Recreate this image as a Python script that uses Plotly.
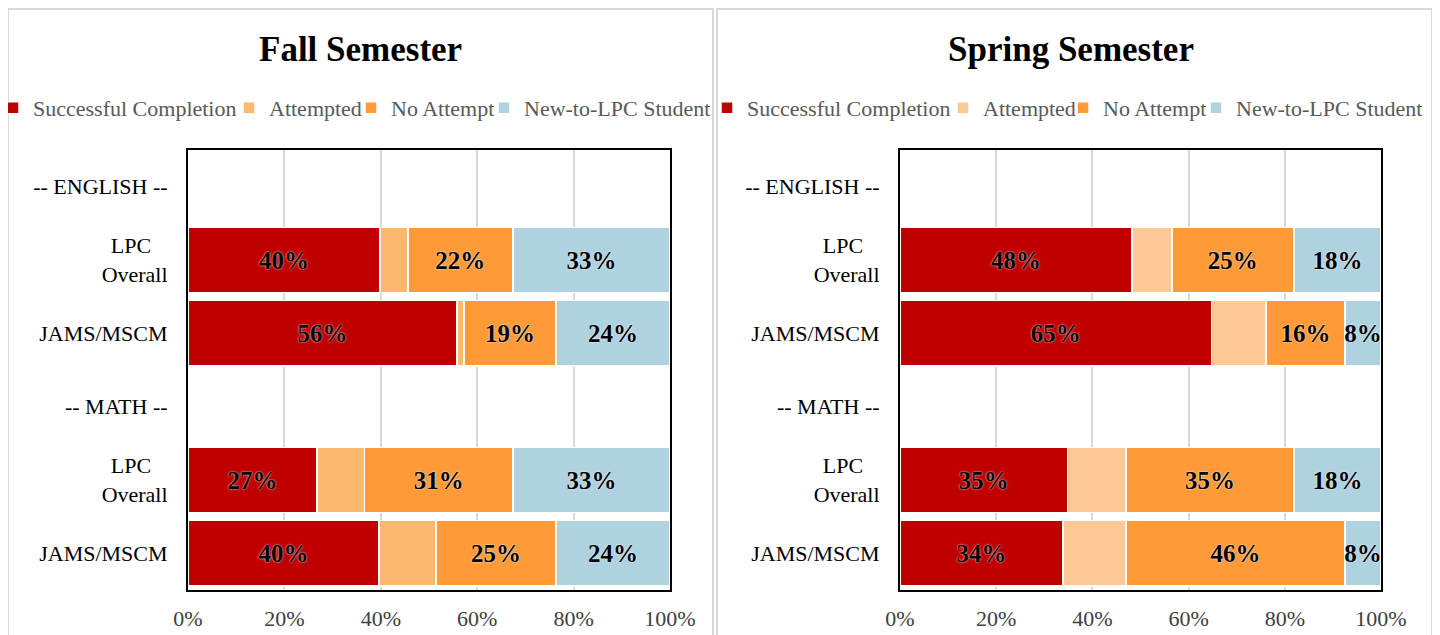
import plotly.graph_objects as go

rows = ["-- ENGLISH --", "LPC\u00a0\u00a0\u00a0<br>Overall", "JAMS/MSCM",
        "-- MATH --", "LPC\u00a0\u00a0\u00a0<br>Overall", "JAMS/MSCM"]
series = ["Successful Completion", "Attempted", "No Attempt", "New-to-LPC Student"]

fall_success = [None, 0.398, 0.558, None, 0.268, 0.396]
fall_attempted = [None, 0.058, 0.015, None, 0.098, 0.119]
fall_noattempt = [None, 0.218, 0.190, None, 0.308, 0.248]
fall_new = [None, 0.326, 0.237, None, 0.326, 0.237]

spring_success = [None, 0.482, 0.648, None, 0.348, 0.339]
spring_attempted = [None, 0.083, 0.113, None, 0.122, 0.131]
spring_noattempt = [None, 0.254, 0.164, None, 0.349, 0.455]
spring_new = [None, 0.181, 0.075, None, 0.181, 0.075]

fall_colors = ["#C00000", "#FDB870", "#FF9A38", "#AED2E0"]
spring_colors = ["#C00000", "#FFC996", "#FF9A38", "#AED2E0"]
show_text = [True, False, True, True]

FONT = "Liberation Serif, Times New Roman, serif"
W, H = 1440, 635
OFF = 8  # page body margin offset


def px(x):
    return (x - OFF) / W


def py(y):
    return 1 - (y - OFF) / H


# screen x where each legend entry's text starts (fall, spring)
fall_legend_text_x = [34, 270, 392, 525]
spring_legend_text_x = [748, 984, 1104, 1237]

fig = go.Figure()
ypos = list(range(len(rows)))
legend_layouts = {}
legend_counter = [0]


def add_panel(vals_list, colors, xaxis, yaxis, text_xs):
    for name, vals, col, st, tx in zip(series, vals_list, colors, show_text, text_xs):
        legend_counter[0] += 1
        lid = "legend" if legend_counter[0] == 1 else f"legend{legend_counter[0]}"
        legend_layouts[lid] = dict(
            orientation="h", xref="paper", yref="paper",
            x=px(tx - 41), xanchor="left", y=py(108), yanchor="middle",
            font=dict(family=FONT, size=22, color="#595959"), itemwidth=30,
            bgcolor="rgba(0,0,0,0)", borderwidth=0, itemclick=False, itemdoubleclick=False)
        fig.add_trace(go.Bar(
            y=ypos, x=vals, orientation="h", name=name,
            marker=dict(color=col, line=dict(color="white", width=1.5)),
            text=[f"{v*100:.0f}%" if (v is not None and st) else "" for v in vals],
            textposition="inside", insidetextanchor="middle", textangle=0,
            textfont=dict(family=FONT, size=25, color="black", weight="bold",
                          shadow="0px 0px 2px white"),
            xaxis=xaxis, yaxis=yaxis, legend=lid, hoverinfo="skip",
            cliponaxis=False,
        ))


add_panel([fall_success, fall_attempted, fall_noattempt, fall_new], fall_colors, "x", "y", fall_legend_text_x)
add_panel([spring_success, spring_attempted, spring_noattempt, spring_new], spring_colors, "x2", "y2", spring_legend_text_x)

ydom = [py(590), py(150)]
xax = dict(range=[0, 1], tickformat=".0%", tickvals=[0, 0.2, 0.4, 0.6, 0.8, 1.0],
           showgrid=True, gridcolor="#D9D9D9", gridwidth=2, zeroline=False,
           showline=True, linecolor="black", linewidth=2, mirror=True,
           tickfont=dict(family=FONT, size=22, color="#404040"), ticks="", ticklabelstandoff=8,
           fixedrange=True, automargin=False)
yax = dict(tickvals=ypos, ticktext=rows, range=[5.5, -0.5],
           showline=True, linecolor="black", linewidth=2, mirror=True, showgrid=False,
           tickfont=dict(family=FONT, size=22, color="#000000"), ticks="", ticklabelstandoff=14,
           domain=ydom, fixedrange=True, automargin=False)

fig.update_layout(
    width=W, height=H,
    margin=dict(l=0, r=0, t=0, b=0, autoexpand=False),
    paper_bgcolor="white", plot_bgcolor="white",
    barmode="stack", bargap=0.11,
    showlegend=True,
    uniformtext=dict(minsize=25, mode="show"),
    xaxis=dict(xax, domain=[px(188), px(670)], anchor="y"),
    yaxis=dict(yax, anchor="x"),
    xaxis2=dict(xax, domain=[px(900), px(1381)], anchor="y2"),
    yaxis2=dict(yax, anchor="x2"),
    annotations=[
        dict(text="<b>Fall Semester</b>", x=px(360), y=py(50), xref="paper", yref="paper",
             showarrow=False, font=dict(family=FONT, size=35, color="black"), xanchor="center", yanchor="middle"),
        dict(text="<b>Spring Semester</b>", x=px(1071), y=py(50), xref="paper", yref="paper",
             showarrow=False, font=dict(family=FONT, size=35, color="black"), xanchor="center", yanchor="middle"),
    ],
    shapes=[
        dict(type="rect", xref="paper", yref="paper", x0=px(8), x1=px(713), y0=-0.05, y1=py(9),
             line=dict(color="#D9D9D9", width=2), layer="below"),
        dict(type="rect", xref="paper", yref="paper", x0=px(717), x1=px(1432), y0=-0.05, y1=py(9),
             line=dict(color="#D9D9D9", width=2), layer="below"),
    ],
    **legend_layouts,
)

fig.write_html("out.html")
